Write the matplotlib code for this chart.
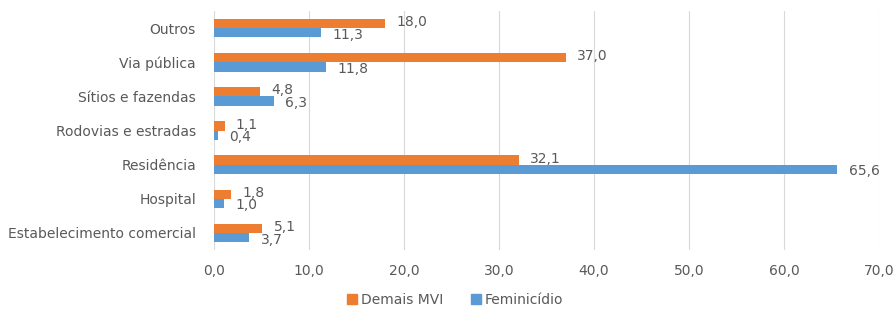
import matplotlib.pyplot as plt
import numpy as np
from matplotlib.patches import Patch

plt.rcParams['font.family'] = ['DejaVu Sans']

categorias = ['Estabelecimento comercial', 'Hospital', 'Residência',
              'Rodovias e estradas', 'Sítios e fazendas', 'Via pública', 'Outros']
feminicidio = [3.7, 1.0, 65.6, 0.4, 6.3, 11.8, 11.3]
demais_mvi = [5.1, 1.8, 32.1, 1.1, 4.8, 37.0, 18.0]

cor_laranja = '#ED7D31'
cor_azul = '#5B9BD5'
cor_texto = '#595959'

fig = plt.figure(figsize=(8.93, 3.09), dpi=100)
ax = fig.add_axes([0.2397, 0.191, 0.7446, 0.773])

y = np.arange(len(categorias))
h = 0.27
ax.barh(y + h / 2, demais_mvi, height=h, color=cor_laranja, zorder=3)
ax.barh(y - h / 2, feminicidio, height=h, color=cor_azul, zorder=3)

for i in range(len(categorias)):
    ax.text(demais_mvi[i] + 1.2, y[i] + h / 2 + 0.04, f'{demais_mvi[i]:.1f}'.replace('.', ','),
            va='center', ha='left', fontsize=10, color=cor_texto, zorder=4)
    ax.text(feminicidio[i] + 1.2, y[i] - h / 2 - 0.06, f'{feminicidio[i]:.1f}'.replace('.', ','),
            va='center', ha='left', fontsize=10, color=cor_texto, zorder=4)

ax.set_xlim(0, 70)
ax.set_ylim(-0.5, len(categorias) - 0.5)
ax.set_yticks(y)
ax.set_yticklabels(categorias, fontsize=10, color=cor_texto)
xt = np.arange(0, 71, 10)
ax.set_xticks(xt)
ax.set_xticklabels([f'{v:.1f}'.replace('.', ',') for v in xt], fontsize=10, color=cor_texto)
ax.tick_params(axis='both', length=0)
ax.tick_params(axis='x', pad=10)
ax.tick_params(axis='y', pad=13)
ax.grid(axis='x', color='#D9D9D9', linewidth=0.8, zorder=0)
for s in ax.spines.values():
    s.set_visible(False)

handles = [Patch(color=cor_laranja, label='Demais MVI'),
           Patch(color=cor_azul, label='Feminicídio')]
fig.legend(handles=handles, loc='center', bbox_to_anchor=(0.51, 0.03), ncol=2,
           frameon=False, fontsize=10, handlelength=0.7, handleheight=0.7,
           handletextpad=0.3, columnspacing=2.0, labelcolor=cor_texto)

fig.savefig('out.png', dpi=100)
